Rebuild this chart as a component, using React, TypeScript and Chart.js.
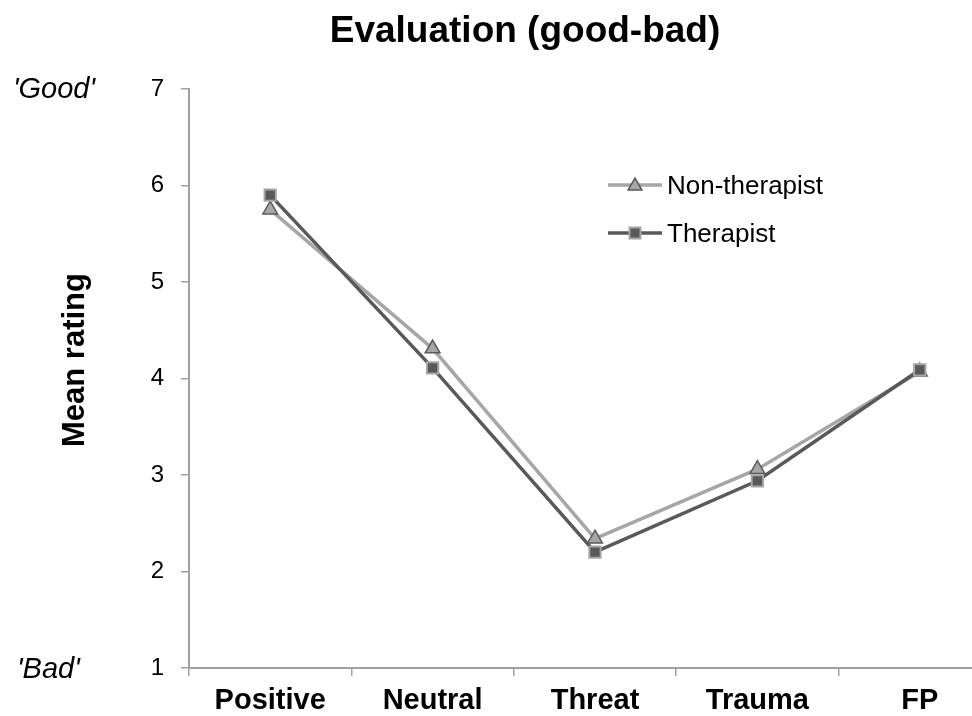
import React, { useEffect, useRef } from "react";
import { Chart, registerables } from "chart.js";

Chart.register(...registerables);

const categories = ["Positive", "Neutral", "Threat", "Trauma", "FP"];
const nonTherapist = [5.75, 4.31, 2.34, 3.06, 4.07];
const therapist = [5.9, 4.11, 2.2, 2.94, 4.09];
const seriesNames = ["Non-therapist", "Therapist"];
const yMin = 1;
const yMax = 7;
const titleText = "Evaluation (good-bad)";
const yAxisText = "Mean rating";
const goodText = "'Good'";
const badText = "'Bad'";

const LIGHT = "#a6a6a6";
const DARK = "#595959";
const AXIS = "#a0a0a0";
const FONT = "'Liberation Sans', Arial, Helvetica, sans-serif";

function drawTriangle(ctx: CanvasRenderingContext2D, x: number, y: number, r: number) {
  ctx.beginPath();
  for (let i = 0; i < 3; i++) {
    const a = (i * 2 * Math.PI) / 3;
    const px = x + Math.sin(a) * r;
    const py = y - Math.cos(a) * r;
    if (i === 0) ctx.moveTo(px, py);
    else ctx.lineTo(px, py);
  }
  ctx.closePath();
  ctx.fillStyle = LIGHT;
  ctx.fill();
  ctx.lineWidth = 1.5;
  ctx.strokeStyle = DARK;
  ctx.stroke();
}

function drawSquare(ctx: CanvasRenderingContext2D, x: number, y: number, s: number) {
  ctx.beginPath();
  ctx.rect(x - s / 2, y - s / 2, s, s);
  ctx.fillStyle = DARK;
  ctx.fill();
  ctx.lineWidth = 2;
  ctx.strokeStyle = LIGHT;
  ctx.stroke();
}

const extrasPlugin = {
  id: "extras",
  afterDraw(chart: any) {
    const ctx: CanvasRenderingContext2D = chart.ctx;
    const ys = chart.scales.y;
    ctx.save();
    ctx.fillStyle = "#000";
    // Title
    ctx.font = `bold 37px ${FONT}`;
    ctx.textAlign = "center";
    ctx.textBaseline = "alphabetic";
    ctx.fillText(titleText, 525, 42);
    // Good / Bad
    ctx.font = `italic 29px ${FONT}`;
    ctx.textAlign = "left";
    ctx.fillText(goodText, 13, ys.getPixelForValue(yMax) + 9);
    ctx.fillText(badText, 17, ys.getPixelForValue(yMin) + 10);
    // Y axis title
    ctx.save();
    ctx.translate(75, 360);
    ctx.rotate(-Math.PI / 2);
    ctx.font = `bold 31px ${FONT}`;
    ctx.textAlign = "center";
    ctx.textBaseline = "middle";
    ctx.fillText(yAxisText, 0, 0);
    ctx.restore();
    // Legend
    const rows = [
      { y: 185, color: LIGHT, name: seriesNames[0], tri: true },
      { y: 233, color: DARK, name: seriesNames[1], tri: false },
    ];
    rows.forEach((r) => {
      ctx.beginPath();
      ctx.moveTo(608, r.y);
      ctx.lineTo(662, r.y);
      ctx.lineWidth = 3.5;
      ctx.strokeStyle = r.color;
      ctx.stroke();
      if (r.tri) drawTriangle(ctx, 635, r.y + 1, 8);
      else drawSquare(ctx, 635, r.y, 11);
      ctx.fillStyle = "#000";
      ctx.font = `26px ${FONT}`;
      ctx.textAlign = "left";
      ctx.textBaseline = "alphabetic";
      ctx.fillText(r.name, 667, r.y + 9);
    });
    ctx.restore();
  },
};

export default function App() {
  const ref = useRef<HTMLCanvasElement | null>(null);
  useEffect(() => {
    if (!ref.current) return;
    const chart = new Chart(ref.current, {
      type: "line",
      data: {
        labels: categories,
        datasets: [
          {
            label: seriesNames[0],
            data: nonTherapist,
            order: 1,
            borderColor: LIGHT,
            borderWidth: 3.5,
            pointStyle: "triangle",
            pointRadius: 8.5,
            pointBackgroundColor: LIGHT,
            pointBorderColor: DARK,
            pointBorderWidth: 1.5,
            tension: 0,
          },
          {
            label: seriesNames[1],
            data: therapist,
            order: 0,
            borderColor: DARK,
            borderWidth: 3.5,
            pointStyle: "rect",
            pointRadius: 8,
            pointBackgroundColor: DARK,
            pointBorderColor: LIGHT,
            pointBorderWidth: 2,
            tension: 0,
          },
        ],
      },
      options: {
        responsive: false,
        animation: false,
        devicePixelRatio: 1,
        layout: { padding: { top: 89, left: 0, right: 0, bottom: 0 } },
        plugins: {
          legend: { display: false },
          title: { display: false },
          tooltip: { enabled: false },
        },
        scales: {
          x: {
            type: "category",
            offset: true,
            grid: {
              display: true,
              offset: true,
              drawOnChartArea: false,
              drawTicks: true,
              tickLength: 8,
              color: AXIS,
              lineWidth: 1.5,
            },
            border: { display: true, color: AXIS, width: 2 },
            ticks: {
              color: "#000",
              padding: 8,
              font: { family: FONT, size: 29, weight: "bold" },
              maxRotation: 0,
            },
            afterFit: (s: any) => {
              s.height = 48;
            },
          },
          y: {
            min: yMin,
            max: yMax,
            grid: {
              display: true,
              drawOnChartArea: false,
              drawTicks: true,
              tickLength: 8,
              color: AXIS,
              lineWidth: 1.5,
            },
            border: { display: true, color: AXIS, width: 2 },
            ticks: {
              stepSize: 1,
              color: "#000",
              padding: 17,
              font: { family: FONT, size: 24 },
            },
            afterFit: (s: any) => {
              s.width = 189;
            },
          },
        },
      },
      plugins: [extrasPlugin],
    });
    return () => chart.destroy();
  }, []);
  return (
    <div
      style={{
        position: "fixed",
        left: 0,
        top: 0,
        width: 972,
        height: 716,
        overflow: "hidden",
        background: "#fff",
      }}
    >
      <canvas
        ref={ref}
        width={1011}
        height={716}
        style={{ display: "block", width: 1011, height: 716 }}
      />
    </div>
  );
}
